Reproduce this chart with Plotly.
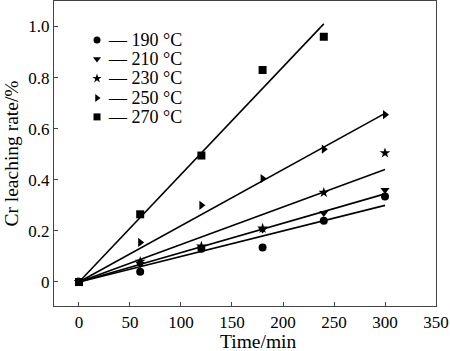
import plotly.graph_objects as go

time_min = [0, 60, 120, 180, 240, 300]
labels = ["190 °C", "210 °C", "230 °C", "250 °C", "270 °C"]
symbols = ["circle", "triangle-down", "star", "triangle-right", "square"]
rate_190 = [0, 0.04, 0.13, 0.135, 0.24, 0.335]
rate_210 = [0, 0.07, 0.135, 0.205, 0.27, 0.36]
rate_230 = [0, 0.08, 0.14, 0.21, 0.35, 0.505]
rate_250 = [0, 0.155, 0.30, 0.405, 0.52, 0.655]
rate_270 = [0, 0.265, 0.495, 0.83, 0.96]
series = [rate_190, rate_210, rate_230, rate_250, rate_270]
# fitted line slopes (per min) and fit end times
fit_slopes = [0.00100, 0.00115, 0.001467, 0.0022, 0.00421]
fit_end = [300, 300, 300, 300, 240]

# manual legend layout (fractions of plot area)
leg_marker_x = 0.1126
leg_text_x = 0.136
leg_row_y = [0.872, 0.810, 0.746, 0.682, 0.620]

fig = go.Figure()
for ys, k, te in zip(series, fit_slopes, fit_end):
    fig.add_trace(go.Scatter(x=[0, te], y=[0, k * te], mode="lines",
                             line=dict(color="black", width=1.6),
                             showlegend=False, hoverinfo="skip"))
for lab, sym, ys in zip(labels, symbols, series):
    fig.add_trace(go.Scatter(x=time_min[:len(ys)], y=ys, mode="markers",
                             name=lab, showlegend=False,
                             marker=dict(symbol=sym, size=8, color="black",
                                         line=dict(width=0))))
# legend markers on an overlay axis in plot-fraction coordinates
fig.add_trace(go.Scatter(x=[leg_marker_x] * len(labels), y=leg_row_y, mode="markers",
                         xaxis="x2", yaxis="y2", showlegend=False, hoverinfo="skip",
                         marker=dict(symbol=symbols, size=7, color="black", line=dict(width=0))))

annotations = [dict(text="— " + lab, xref="paper", yref="paper", x=leg_text_x, y=yy,
                    showarrow=False, xanchor="left", yanchor="middle",
                    font=dict(size=18, family="Liberation Serif", color="black"))
               for lab, yy in zip(labels, leg_row_y)]
annotations.append(dict(text="Time/min", xref="paper", yref="paper", x=0.534, y=-0.118,
                        showarrow=False, xanchor="center", yanchor="middle",
                        font=dict(size=19.5, family="Liberation Serif", color="black")))

axis_common = dict(showline=True, linecolor="#444", linewidth=1.2, mirror=True,
                   ticks="inside", ticklen=4, tickcolor="#444", showgrid=False,
                   zeroline=False, tickfont=dict(family="Liberation Serif", size=17, color="black"))
fig.update_layout(
    width=450, height=351,
    margin=dict(l=54, r=14, t=1, b=45),
    paper_bgcolor="white", plot_bgcolor="white",
    font=dict(family="Liberation Serif", color="black"),
    showlegend=False,
    xaxis=dict(range=[-24.5, 350], tickvals=[0, 50, 100, 150, 200, 250, 300, 350], **axis_common),
    yaxis=dict(range=[-0.094, 1.1], tickvals=[0, 0.2, 0.4, 0.6, 0.8, 1.0],
               ticktext=["0", "0.2", "0.4", "0.6", "0.8", "1.0"],
               title=dict(text="Cr leaching rate/%", font=dict(size=19.5), standoff=4),
               **axis_common),
    xaxis2=dict(range=[0, 1], overlaying="x", visible=False, anchor="y2"),
    yaxis2=dict(range=[0, 1], overlaying="y", visible=False, anchor="x2"),
    annotations=annotations,
)
fig.write_html("out.html")
